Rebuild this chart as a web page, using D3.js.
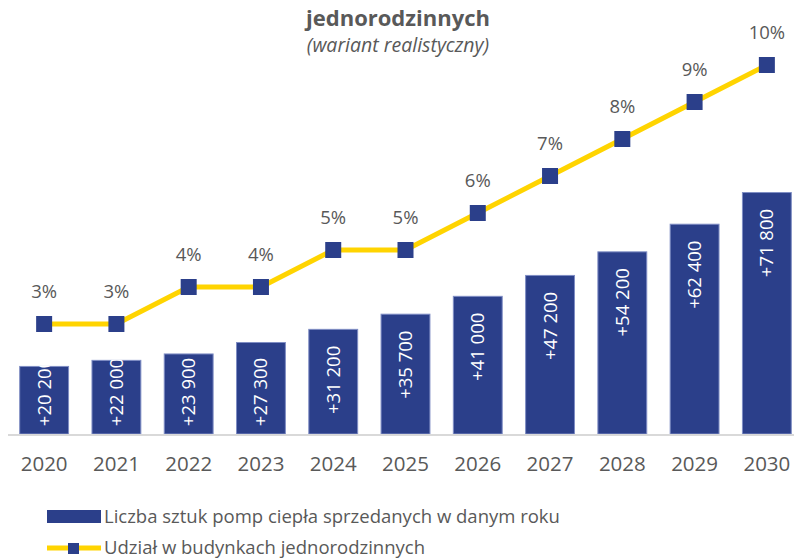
<!DOCTYPE html>
<html>
<head>
<meta charset="utf-8">
<script src="https://cdn.jsdelivr.net/npm/d3@7"></script>
<style>
  body { margin: 0; background: #fff; }
  text { font-family: "Open Sans", "Noto Sans", sans-serif; }
</style>
</head>
<body>
<div id="chart"></div>
<script>
// dane
const years = ["2020", "2021", "2022", "2023", "2024", "2025", "2026", "2027", "2028", "2029", "2030"];
const sales = [20200, 22000, 23900, 27300, 31200, 35700, 41000, 47200, 54200, 62400, 71800];
const share = [3, 3, 4, 4, 5, 5, 6, 7, 8, 9, 10];
const salesLabels = ["+20 200", "+22 000", "+23 900", "+27 300", "+31 200", "+35 700", "+41 000", "+47 200", "+54 200", "+62 400", "+71 800"];
const legendLabels = ["Liczba sztuk pomp ciepła sprzedanych w danym roku", "Udział w budynkach jednorodzinnych"];

const width = 794, height = 560;
const base = 434;
const blue = "#2b3f8a", yellow = "#ffd400", grey = "#595959";

const svg = d3.select("#chart").append("svg")
  .attr("width", width)
  .attr("height", height);

// skale
const x = d3.scaleBand().domain(years).range([8, 803]).paddingInner(0.31).paddingOuter(0.155);
const y = d3.scaleLinear().domain([0, 80000]).range([base, base - 80000 * 0.00337]);
const yShare = d3.scaleLinear().domain([0, 10]).range([435, 65]);

// tytuł
svg.append("text")
  .attr("x", 398).attr("y", 26)
  .attr("text-anchor", "middle")
  .attr("font-size", 22).attr("font-weight", "bold")
  .attr("fill", grey)
  .text("jednorodzinnych");
svg.append("text")
  .attr("x", 398).attr("y", 52)
  .attr("text-anchor", "middle")
  .attr("font-size", 19.5).attr("font-style", "italic")
  .attr("fill", grey)
  .text("(wariant realistyczny)");

// słupki
const defs = svg.append("defs");
defs.selectAll("clipPath")
  .data(years)
  .join("clipPath")
  .attr("id", (d, i) => "clip" + i)
  .append("rect")
  .attr("x", d => x(d))
  .attr("y", (d, i) => y(sales[i]))
  .attr("width", x.bandwidth())
  .attr("height", (d, i) => base - y(sales[i]));

svg.append("g").selectAll("rect")
  .data(years)
  .join("rect")
  .attr("x", d => x(d) + 0.5)
  .attr("y", (d, i) => y(sales[i]) + 0.5)
  .attr("width", x.bandwidth() - 1)
  .attr("height", (d, i) => base - y(sales[i]) - 0.5)
  .attr("fill", blue)
  .attr("stroke", "#7f8dc4")
  .attr("stroke-width", 1);

// linia bazowa
svg.append("line")
  .attr("x1", 8).attr("x2", width)
  .attr("y1", base + 1).attr("y2", base + 1)
  .attr("stroke", "#d9d9d9").attr("stroke-width", 2);

// etykiety słupków (przycięte do słupka)
svg.append("g").selectAll("g")
  .data(years)
  .join("g")
  .attr("clip-path", (d, i) => `url(#clip${i})`)
  .append("text")
  .attr("transform", (d, i) => {
    const cy = Math.min(y(sales[i]) + 51, 392);
    return `translate(${x(d) + x.bandwidth() / 2}, ${cy}) rotate(-90)`;
  })
  .attr("text-anchor", "middle")
  .attr("dy", "0.35em")
  .attr("font-size", 18.5)
  .attr("fill", "#fff")
  .text((d, i) => salesLabels[i]);

// oś X
const xAxis = svg.append("g")
  .attr("transform", `translate(0, ${base})`)
  .call(d3.axisBottom(x).tickSize(0).tickPadding(22));
xAxis.select(".domain").remove();
xAxis.selectAll("text")
  .attr("font-size", 20.5)
  .attr("fill", grey)
  .attr("font-family", "Open Sans, Noto Sans, sans-serif");

// linia udziału
const line = d3.line()
  .x((d, i) => x(years[i]) + x.bandwidth() / 2)
  .y(d => yShare(d));

svg.append("path")
  .datum(share)
  .attr("d", line)
  .attr("fill", "none")
  .attr("stroke", yellow)
  .attr("stroke-width", 5);

svg.append("g").selectAll("rect")
  .data(share)
  .join("rect")
  .attr("x", (d, i) => x(years[i]) + x.bandwidth() / 2 - 8)
  .attr("y", d => yShare(d) - 8)
  .attr("width", 16).attr("height", 16)
  .attr("fill", blue);

svg.append("g").selectAll("text")
  .data(share)
  .join("text")
  .attr("x", (d, i) => x(years[i]) + x.bandwidth() / 2)
  .attr("y", d => yShare(d) - 26)
  .attr("text-anchor", "middle")
  .attr("font-size", 18.5)
  .attr("fill", grey)
  .text(d => d + "%");

// legenda
const legend = svg.append("g");
legend.append("rect")
  .attr("x", 47).attr("y", 510)
  .attr("width", 54).attr("height", 13)
  .attr("fill", blue);
legend.append("text")
  .attr("x", 104).attr("y", 517)
  .attr("dy", "0.35em")
  .attr("font-size", 18.5).attr("fill", grey)
  .text(legendLabels[0]);
legend.append("line")
  .attr("x1", 47).attr("x2", 101)
  .attr("y1", 548).attr("y2", 548)
  .attr("stroke", yellow).attr("stroke-width", 5);
legend.append("rect")
  .attr("x", 68).attr("y", 543)
  .attr("width", 11).attr("height", 11)
  .attr("fill", blue);
legend.append("text")
  .attr("x", 104).attr("y", 548)
  .attr("dy", "0.35em")
  .attr("font-size", 18.5).attr("fill", grey)
  .text(legendLabels[1]);
</script>
</body>
</html>
